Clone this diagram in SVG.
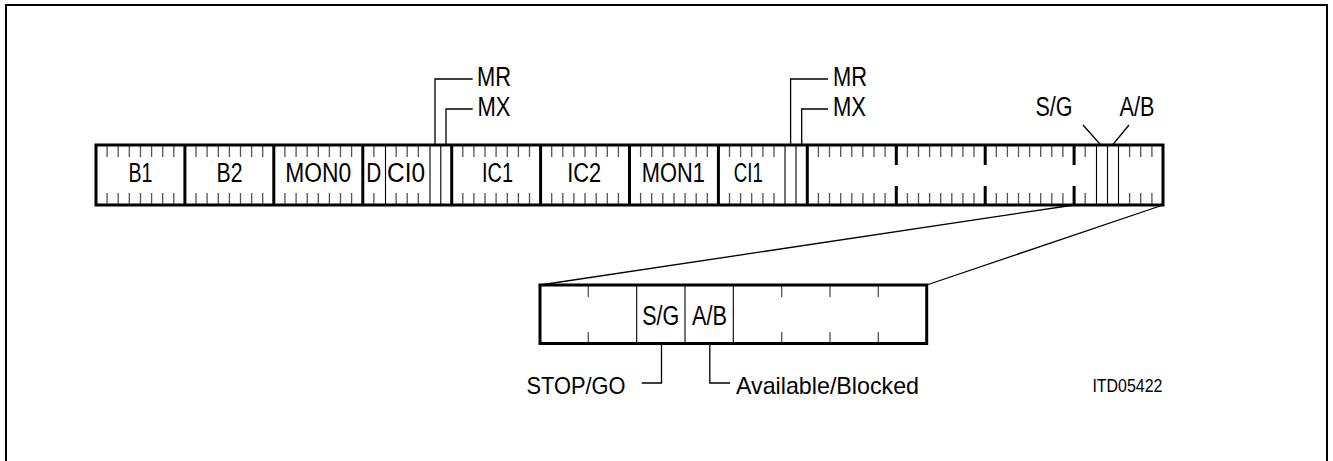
<svg xmlns="http://www.w3.org/2000/svg" width="1333" height="461" viewBox="0 0 1333 461">
<style>
text{font-family:"Liberation Sans",Arial,sans-serif;fill:#000;text-anchor:middle;}
.lb{font-size:27px;}
.sm{font-size:18.5px;}
.md{font-size:24px;}
.fr{fill:none;stroke:#000;stroke-width:3;}
.tk{stroke:#555;stroke-width:1.3;}
.th{stroke:#000;stroke-width:3;}
.tn{stroke:#000;stroke-width:1.1;}
.ld{fill:none;stroke:#000;stroke-width:1.3;}
</style>
<rect x="0" y="0" width="1333" height="461" fill="#fff"/>
<path d="M6 461V5H1327V461" fill="none" stroke="#000" stroke-width="2"/>
<g id="frame-bar">
<g id="ticks">
<path class="tk" d="M107.1 145V157M118.2 145V157M129.3 145V157M140.5 145V157M151.6 145V157M162.7 145V157M173.8 145V157
M107.1 193V205M118.2 193V205M129.3 193V205M140.5 193V205M151.6 193V205M162.7 193V205M173.8 193V205
M196 145V157M207.1 145V157M218.3 145V157M229.4 145V157M240.5 145V157M251.6 145V157M262.7 145V157
M196 193V205M207.1 193V205M218.3 193V205M229.4 193V205M240.5 193V205M251.6 193V205M262.7 193V205
M284.9 145V157M296.1 145V157M307.2 145V157M318.3 145V157M329.4 145V157M340.5 145V157M351.6 145V157
M284.9 193V205M296.1 193V205M307.2 193V205M318.3 193V205M329.4 193V205M340.5 193V205M351.6 193V205
M373.9 145V157M396.1 145V157M407.2 145V157M418.3 145V157
M373.9 193V205M396.1 193V205M407.2 193V205M418.3 193V205
M462.8 145V157M473.9 145V157M485 145V157M496.1 145V157M507.3 145V157M518.4 145V157M529.5 145V157
M462.8 193V205M473.9 193V205M485 193V205M496.1 193V205M507.3 193V205M518.4 193V205M529.5 193V205
M551.7 145V157M562.8 145V157M573.9 145V157M585 145V157M596.2 145V157M607.3 145V157M618.4 145V157
M551.7 193V205M562.8 193V205M573.9 193V205M585 193V205M596.2 193V205M607.3 193V205M618.4 193V205
M640.6 145V157M651.7 145V157M662.8 145V157M674 145V157M685.1 145V157M696.2 145V157M707.3 145V157
M640.6 193V205M651.7 193V205M662.8 193V205M674 193V205M685.1 193V205M696.2 193V205M707.3 193V205
M729.5 145V157M740.6 145V157M751.7 145V157M762.9 145V157M774 145V157
M729.5 193V205M740.6 193V205M751.7 193V205M762.9 193V205M774 193V205
M818.4 145V157M829.5 145V157M840.7 145V157M851.8 145V157M862.9 145V157M874 145V157M885.1 145V157
M818.4 193V205M829.5 193V205M840.7 193V205M851.8 193V205M862.9 193V205M874 193V205M885.1 193V205
M907.4 145V157M918.5 145V157M929.6 145V157M940.7 145V157M951.8 145V157M962.9 145V157M974 145V157
M907.4 193V205M918.5 193V205M929.6 193V205M940.7 193V205M951.8 193V205M962.9 193V205M974 193V205
M996.3 145V157M1007.4 145V157M1018.5 145V157M1029.6 145V157M1040.7 145V157M1051.8 145V157M1062.9 145V157
M996.3 193V205M1007.4 193V205M1018.5 193V205M1029.6 193V205M1040.7 193V205M1051.8 193V205M1062.9 193V205
M1085.2 145V157M1129.6 145V157M1140.7 145V157M1151.9 145V157
M1085.2 193V205M1129.6 193V205M1140.7 193V205M1151.9 193V205"/>
</g>
<path class="th" d="M184.9 145V205M273.8 145V205M362.8 145V205M451.7 145V205M540.6 145V205M629.5 145V205M718.4 145V205M807.3 145V205
M896.3 145V165M896.3 186V205M985.2 145V165M985.2 186V205M1074.1 145V165M1074.1 186V205"/>
<path class="tn" d="M385.5 145V205M430 145V205M440.8 145V205M785 145V205M796 145V205M1096.5 145V205M1107.5 145V205M1118.5 145V205"/>
<rect class="fr" x="96" y="145" width="1067" height="60"/>
</g>
<g id="field-labels">
<text class="lb" x="140.5" y="182" textLength="24" lengthAdjust="spacingAndGlyphs">B1</text>
<text class="lb" x="229.6" y="182" textLength="26" lengthAdjust="spacingAndGlyphs">B2</text>
<text class="lb" x="318.3" y="182" textLength="66" lengthAdjust="spacingAndGlyphs">MON0</text>
<text class="lb" x="373.8" y="182" textLength="15" lengthAdjust="spacingAndGlyphs">D</text>
<text class="lb" x="406" y="182" textLength="38" lengthAdjust="spacingAndGlyphs">CI0</text>
<text class="lb" x="497.5" y="182" textLength="31" lengthAdjust="spacingAndGlyphs">IC1</text>
<text class="lb" x="584.2" y="182" textLength="34" lengthAdjust="spacingAndGlyphs">IC2</text>
<text class="lb" x="673.3" y="182" textLength="63" lengthAdjust="spacingAndGlyphs">MON1</text>
<text class="lb" x="748.3" y="182" textLength="29" lengthAdjust="spacingAndGlyphs">CI1</text>
</g>
<g id="mr-mx-0">
<path class="ld" d="M435 145V79H472.7M446 145V109H472.7"/>
<text class="lb" x="494" y="86" textLength="34" lengthAdjust="spacingAndGlyphs">MR</text>
<text class="lb" x="494" y="116" textLength="33" lengthAdjust="spacingAndGlyphs">MX</text>
</g>
<g id="mr-mx-1">
<path class="ld" d="M790.6 145V79H828M801.7 145V109H828"/>
<text class="lb" x="850" y="86" textLength="34" lengthAdjust="spacingAndGlyphs">MR</text>
<text class="lb" x="849.5" y="116" textLength="33" lengthAdjust="spacingAndGlyphs">MX</text>
</g>
<g id="sg-ab-top">
<path class="ld" d="M1083 125L1100.8 145M1129 125L1112.5 145"/>
<text class="lb" x="1054" y="116" textLength="37" lengthAdjust="spacingAndGlyphs">S/G</text>
<text class="lb" x="1137" y="116" textLength="35" lengthAdjust="spacingAndGlyphs">A/B</text>
</g>
<g id="connectors">
<path class="ld" d="M540 285L1074.1 205M926.7 285L1163 205"/>
<path class="ld" d="M661.5 343.5V383H641.7M709.8 343.5V383H730"/>
</g>
<g id="detail-box">
<rect x="540" y="285" width="386.7" height="58.5" fill="#fff"/>
<path class="tk" d="M588.3 285V297M588.3 332V343.5M781.7 285V297M781.7 332V343.5M830 285V297M830 332V343.5M878.3 285V297M878.3 332V343.5"/>
<path class="tn" d="M636.7 285V343.5M685 285V343.5M733.3 285V343.5"/>
<rect class="fr" x="540" y="285" width="386.7" height="58.5"/>
<text class="lb" x="660.8" y="325" textLength="37" lengthAdjust="spacingAndGlyphs">S/G</text>
<text class="lb" x="709.5" y="325" textLength="35" lengthAdjust="spacingAndGlyphs">A/B</text>
</g>
<g id="notes">
<text class="md" x="576" y="394" textLength="99" lengthAdjust="spacingAndGlyphs">STOP/GO</text>
<text class="md" x="827.5" y="394" textLength="183" lengthAdjust="spacingAndGlyphs">Available/Blocked</text>
<text class="sm" x="1127.4" y="392" textLength="70" lengthAdjust="spacingAndGlyphs">ITD05422</text>
</g>
</svg>
